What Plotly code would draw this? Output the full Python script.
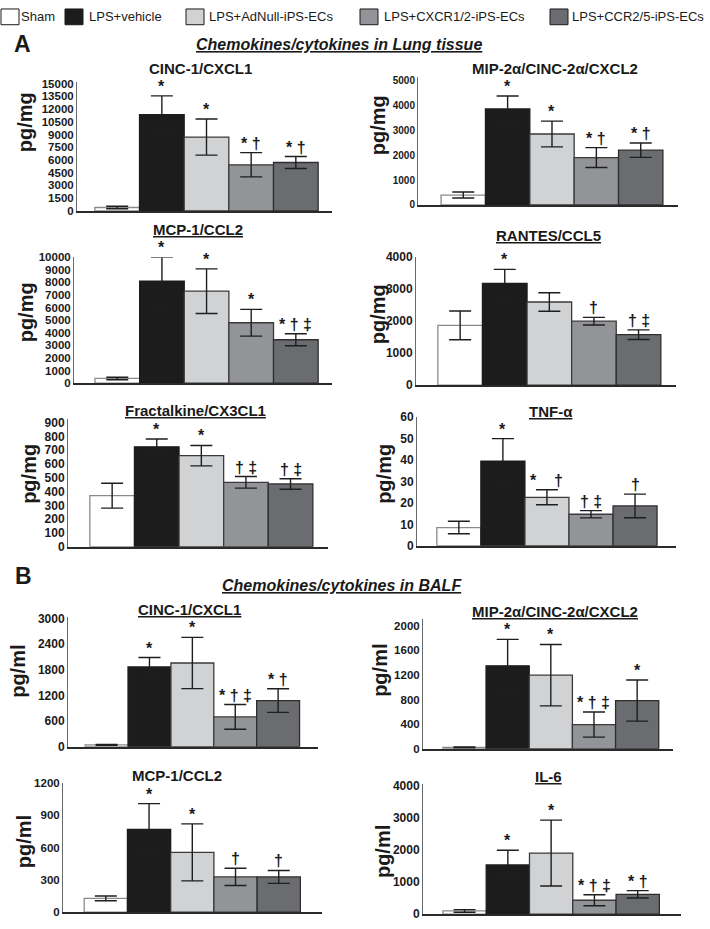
import plotly.graph_objects as go

W, H = 710, 929

GROUPS = ["Sham", "LPS+vehicle", "LPS+AdNull-iPS-ECs", "LPS+CXCR1/2-iPS-ECs", "LPS+CCR2/5-iPS-ECs"]

# Lung tissue (pg/mg)
lung_cinc1_mean = [400, 11350, 8700, 5430, 5700]
lung_cinc1_err = [150, 2200, 2130, 1430, 700]
lung_cinc1_sig = ["", "*", "*", "* †", "* †"]

lung_mip2_mean = [400, 3870, 2860, 1910, 2210]
lung_mip2_err = [120, 520, 520, 400, 290]
lung_mip2_sig = ["", "*", "*", "* †", "* †"]

lung_mcp1_mean = [380, 8100, 7300, 4800, 3450]
lung_mcp1_err = [100, 1900, 1770, 1060, 480]
lung_mcp1_sig = ["", "*", "*", "*", "* † ‡"]

lung_rantes_mean = [1870, 3180, 2600, 2000, 1580]
lung_rantes_err = [450, 440, 290, 120, 150]
lung_rantes_sig = ["", "*", "", "†", "† ‡"]

lung_fkn_mean = [370, 724, 660, 467, 455]
lung_fkn_err = [90, 57, 74, 42, 38]
lung_fkn_sig = ["", "*", "*", "† ‡", "† ‡"]

lung_tnf_mean = [8.5, 39.5, 22.6, 14.7, 18.6]
lung_tnf_err = [2.9, 10.5, 3.5, 1.7, 5.5]
lung_tnf_sig = ["", "*", "*    †", "† ‡", "†"]

# BALF (pg/ml)
balf_cinc1_mean = [40, 1865, 1957, 696, 1078]
balf_cinc1_err = [10, 220, 600, 290, 275]
balf_cinc1_sig = ["", "*", "*", "* † ‡", "* †"]

balf_mip2_mean = [20, 1350, 1197, 392, 784]
balf_mip2_err = [8, 430, 500, 205, 335]
balf_mip2_sig = ["", "*", "*", "* † ‡", "*"]

balf_mcp1_mean = [128, 769, 556, 328, 328]
balf_mcp1_err = [22, 240, 265, 80, 60]
balf_mcp1_sig = ["", "*", "*", "†", "†"]

balf_il6_mean = [100, 1536, 1907, 433, 619]
balf_il6_err = [40, 460, 1030, 170, 115]
balf_il6_sig = ["", "*", "*", "* † ‡", "* †"]

TITLES = ["CINC-1/CXCL1", "MIP-2α/CINC-2α/CXCL2", "MCP-1/CCL2", "RANTES/CCL5",
          "Fractalkine/CX3CL1", "TNF-α", "CINC-1/CXCL1", "MIP-2α/CINC-2α/CXCL2",
          "MCP-1/CCL2", "IL-6"]
UNDERLINED = [False, False, True, True, True, True, True, True, False, True]
UNITS = ["pg/mg"] * 6 + ["pg/ml"] * 4
DTICKS = [1500, 1000, 1000, 1000, 100, 10, 600, 400, 300, 1000]

DATA = [
    (lung_cinc1_mean, lung_cinc1_err, lung_cinc1_sig),
    (lung_mip2_mean, lung_mip2_err, lung_mip2_sig),
    (lung_mcp1_mean, lung_mcp1_err, lung_mcp1_sig),
    (lung_rantes_mean, lung_rantes_err, lung_rantes_sig),
    (lung_fkn_mean, lung_fkn_err, lung_fkn_sig),
    (lung_tnf_mean, lung_tnf_err, lung_tnf_sig),
    (balf_cinc1_mean, balf_cinc1_err, balf_cinc1_sig),
    (balf_mip2_mean, balf_mip2_err, balf_mip2_sig),
    (balf_mcp1_mean, balf_mcp1_err, balf_mcp1_sig),
    (balf_il6_mean, balf_il6_err, balf_il6_sig),
]

# layout geometry (pixels): x-left, x-right, y-zero, y-top, value at top, x-range, title center, unit label center, tick font size
GEOM = [
    dict(xl=77, xr=332, y0=207, yt=76, vt=15200, xr_=(-0.9, 4.81), tc=(200, 62), uc=(25, 117), tf=11.5),
    dict(xl=418, xr=678, y0=201, yt=71, vt=5160, xr_=(-1.02, 4.84), tc=(555, 62), uc=(378, 120), tf=10),
    dict(xl=74, xr=332, y0=382, yt=254, vt=10000, xr_=(-0.97, 4.81), tc=(198, 226), uc=(26, 310), tf=11.5),
    dict(xl=416, xr=676, y0=384, yt=254, vt=4000, xr_=(-0.99, 4.84), tc=(548, 232), uc=(378, 312), tf=12),
    dict(xl=68, xr=328, y0=548, yt=418, vt=928, xr_=(-0.99, 4.84), tc=(195, 410), uc=(29, 474), tf=12),
    dict(xl=417, xr=676, y0=547, yt=416, vt=60.2, xr_=(-0.95, 4.93), tc=(551, 411), uc=(384, 474), tf=12),
    dict(xl=68, xr=318, y0=751, yt=619, vt=3040, xr_=(-0.9, 4.93), tc=(190, 612), uc=(18, 675), tf=12),
    dict(xl=423, xr=673, y0=753, yt=621, vt=2118, xr_=(-0.96, 4.83), tc=(555, 614), uc=(380, 673), tf=11.5),
    dict(xl=63, xr=322, y0=919, yt=788, vt=1200, xr_=(-0.99, 5.0), tc=(177, 780), uc=(24, 847), tf=11.5),
    dict(xl=423, xr=681, y0=921, yt=789, vt=4062, xr_=(-0.96, 5.0), tc=(548, 781), uc=(383, 857), tf=12),
]

COLORS = ["#ffffff", "#1c1c1c", "#d1d2d4", "#929497", "#6b6c6f"]
EDGES = ["#8a8a8a", "#1c1c1c", "#3a3a3a", "#3a3a3a", "#2e2e2e"]
FONT = "Liberation Sans, Arial, Helvetica, sans-serif"


def px(x):
    return x / W


def py(y):
    return 1 - y / H


fig = go.Figure()
layout = dict(
    width=W, height=H, margin=dict(l=0, r=0, t=0, b=0),
    paper_bgcolor="white", plot_bgcolor="rgba(0,0,0,0)",
    showlegend=False, bargap=0,
    font=dict(family=FONT, color="#1a1a1a"),
)
annotations = []
shapes = []

for i, ((mean, err, sig), g) in enumerate(zip(DATA, GEOM)):
    n = i + 1
    xa = "x" if n == 1 else f"x{n}"
    ya = "y" if n == 1 else f"y{n}"
    fig.add_trace(go.Bar(
        x=GROUPS, y=mean, width=1,
        marker=dict(color=COLORS, line=dict(color=EDGES, width=1.3)),
        error_y=dict(type="data", array=err, visible=True, color="#1e1e1e", thickness=1.4, width=11),
        xaxis=xa, yaxis=ya, showlegend=False, hoverinfo="skip",
    ))
    layout[f"xaxis{n}"] = dict(
        domain=[px(g["xl"]), px(g["xr"])], anchor=ya, type="category",
        range=list(g["xr_"]), showticklabels=False, ticks="", showgrid=False,
        zeroline=False, showline=True, linecolor="#2a2a2a", linewidth=2,
    )
    layout[f"yaxis{n}"] = dict(
        domain=[py(g["y0"]), py(g["yt"])], anchor=xa, range=[0, g["vt"]],
        dtick=DTICKS[i], tick0=0, tickformat="d", ticks="", showgrid=False, zeroline=False,
        showline=True, linecolor="#6a6a6a", linewidth=1,
        tickfont=dict(family=FONT, size=g["tf"], color="#1a1a1a", weight="bold"),
    )
    # significance marks
    for grp, m, e, s in zip(GROUPS, mean, err, sig):
        if s:
            annotations.append(dict(
                x=grp, y=m + e, xref=xa, yref=ya, text=f"<b>{s}</b>", showarrow=False,
                yanchor="bottom", yshift=0, borderpad=0,
                font=dict(family=FONT, size=16, color="#1a1a1a"),
            ))
    # panel title
    t = f"<b><u>{TITLES[i]}</u></b>" if UNDERLINED[i] else f"<b>{TITLES[i]}</b>"
    annotations.append(dict(
        x=px(g["tc"][0]), y=py(g["tc"][1]), xref="paper", yref="paper", text=t,
        showarrow=False, xanchor="center", yanchor="middle", borderpad=0,
        font=dict(family=FONT, size=15, color="#1a1a1a"),
    ))
    # unit label
    annotations.append(dict(
        x=px(g["uc"][0]), y=py(g["uc"][1]), xref="paper", yref="paper",
        text=f"<b>{UNITS[i]}</b>", textangle=-90, showarrow=False,
        xanchor="center", yanchor="middle", font=dict(family=FONT, size=20, color="#1a1a1a"),
    ))

# section headers
for txt, cx, cy in [("Chemokines/cytokines in Lung tissue", 339, 38),
                    ("Chemokines/cytokines in BALF", 342, 587)]:
    annotations.append(dict(
        x=px(cx), y=py(cy), xref="paper", yref="paper", text=f"<b><i><u>{txt}</u></i></b>",
        showarrow=False, xanchor="center", yanchor="middle",
        font=dict(family=FONT, size=16, color="#1a1a1a"),
    ))
for txt, cx, cy in [("A", 22, 38), ("B", 23, 578)]:
    annotations.append(dict(
        x=px(cx), y=py(cy), xref="paper", yref="paper", text=f"<b>{txt}</b>",
        showarrow=False, xanchor="center", yanchor="middle",
        font=dict(family=FONT, size=23, color="#1a1a1a"),
    ))

# legend (drawn manually)
LEG_BOX_X = [1, 65, 186, 360, 550]
LEG_TEXT_X = [20, 88, 208, 383, 571]
for grp, c, e, bx, tx in zip(GROUPS, COLORS, EDGES, LEG_BOX_X, LEG_TEXT_X):
    shapes.append(dict(type="rect", xref="paper", yref="paper",
                       x0=px(bx), x1=px(bx + 18), y0=py(18), y1=py(2),
                       fillcolor=c, line=dict(color="#1a1a1a", width=1)))
    annotations.append(dict(
        x=px(tx), y=py(10), xref="paper", yref="paper", text=grp, showarrow=False,
        xanchor="left", yanchor="middle", borderpad=0,
        font=dict(family=FONT, size=13, color="#1a1a1a"),
    ))

layout["annotations"] = annotations
layout["shapes"] = shapes
fig.update_layout(**layout)
fig.write_html("out.html", config={"displayModeBar": False, "staticPlot": True},
               post_script="document.body.style.margin='0px';")
